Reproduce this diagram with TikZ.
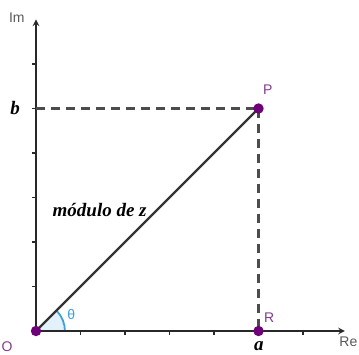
\documentclass[tikz,border=0pt]{standalone}
\usepackage{fontspec}
\setmainfont{Liberation Serif}
\setsansfont{Liberation Sans}
\definecolor{ptcol}{RGB}{110,0,120}
\definecolor{lblcol}{RGB}{130,60,140}
\definecolor{angcol}{RGB}{60,160,220}
\definecolor{axcol}{RGB}{40,40,40}
\begin{document}
\begin{tikzpicture}[>=stealth, x=44.5pt, y=44.5pt, font=\sffamily\fontsize{14}{15}\selectfont]
\useasboundingbox (-0.809,-0.517) rectangle (7.258,7.438);
\coordinate (O) at (0,0);
\coordinate (P) at (5,5);
\coordinate (R) at (5,0);
\coordinate (B) at (0,5);
\coordinate (xend) at (6.94,0);
\coordinate (yend) at (0,7);
% angle
\fill[angcol!15] (O) -- (0.65,0) arc (0:45:0.65) -- cycle;
\draw[angcol, line width=1.8pt] (0.65,0) arc (0:45:0.65);
% axes
\draw[->, axcol, line width=1.9pt] (O) -- (xend);
\draw[->, axcol, line width=1.9pt] (O) -- (yend);
\foreach \i in {1,...,6} {
  \draw[axcol, line width=1.1pt] (\i,0) -- (\i,-0.08);
  \draw[axcol, line width=1.1pt] (0,\i) -- (-0.08,\i);
}
% dashed lines
\draw[dash pattern=on 9pt off 6pt, gray!60!black, line width=2.1pt] (B) -- (P);
\draw[dash pattern=on 9pt off 6pt, gray!60!black, line width=2.1pt] (P) -- (R);
% modulus
\draw[gray!40!black, line width=2.4pt] (O) -- (P);
\fill[ptcol] (O) circle (5.2pt);
\fill[ptcol] (P) circle (5.2pt);
\fill[ptcol] (R) circle (5.2pt);
% labels
\node[gray!70!black] (im) at (-0.43,7.03) {Im};
\node[gray!70!black] (re) at (7.02,-0.25) {Re};
\node[lblcol] (o) at (-0.65,-0.36) {O};
\node[lblcol] (p) at (5.21,5.42) {P};
\node[lblcol] (r) at (5.24,0.29) {R};
\node[angcol] (th) at (0.79,0.36) {θ};
\node[font=\rmfamily\bfseries\itshape\fontsize{19}{20}\selectfont] (b) at (-0.47,5.0) {b};
\node[font=\rmfamily\bfseries\itshape\fontsize{19}{20}\selectfont] (a) at (5.01,-0.34) {a};
\node[font=\rmfamily\bfseries\itshape\fontsize{19}{20}\selectfont] (mod) at (1.43,2.72) {módulo de z};
\end{tikzpicture}
\end{document}
